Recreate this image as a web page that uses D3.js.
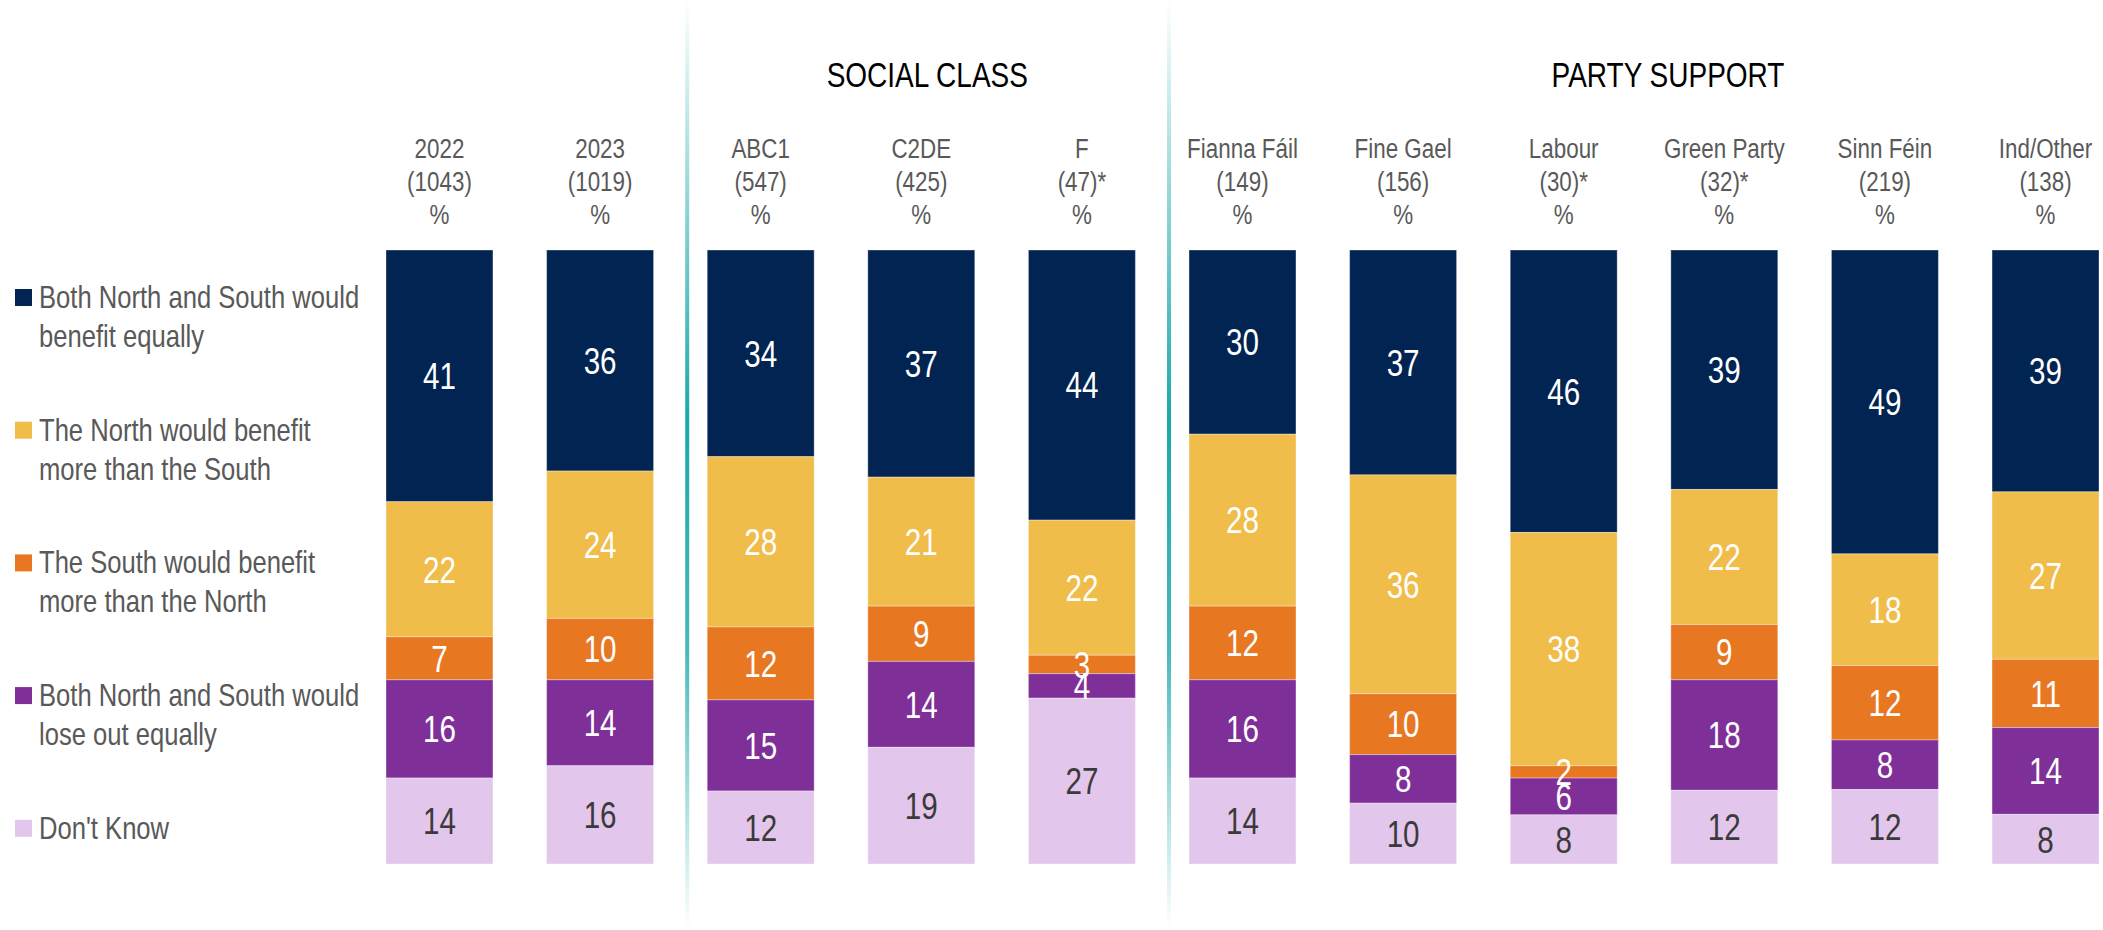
<!DOCTYPE html>
<html>
<head>
<meta charset="utf-8">
<script src="https://cdn.jsdelivr.net/npm/d3@7"></script>
<style>
  body { margin: 0; background: #fff; }
  text { font-family: "Liberation Sans", Arial, sans-serif; }
</style>
</head>
<body>
<div id="chart"></div>
<script>
// chart size
var svgWidth = 2103;
var svgHeight = 930;

// columns and their base sizes
var columns = ["2022", "2023", "ABC1", "C2DE", "F", "Fianna Fáil", "Fine Gael", "Labour", "Green Party", "Sinn Féin", "Ind/Other"];
var bases = ["(1043)", "(1019)", "(547)", "(425)", "(47)*", "(149)", "(156)", "(30)*", "(32)*", "(219)", "(138)"];

// answer categories (stack order, top to bottom)
var answers = [
  "Both North and South would benefit equally",
  "The North would benefit more than the South",
  "The South would benefit more than the North",
  "Both North and South would lose out equally",
  "Don't Know"
];
var legendLines = [
  ["Both North and South would", "benefit equally"],
  ["The North would benefit", "more than the South"],
  ["The South would benefit", "more than the North"],
  ["Both North and South would", "lose out equally"],
  ["Don't Know"]
];
var colors = ["#022452", "#f0bd4a", "#e87722", "#7f3098", "#e3c6ec"];
var labelColors = ["#fff", "#fff", "#fff", "#fff", "#3a3a3a"];

// values per answer, one per column
var bothEqual = [41, 36, 34, 37, 44, 30, 37, 46, 39, 49, 39];
var northMore = [22, 24, 28, 21, 22, 28, 36, 38, 22, 18, 27];
var southMore = [7, 10, 12, 9, 3, 12, 10, 2, 9, 12, 11];
var bothLose = [16, 14, 15, 14, 4, 16, 8, 6, 18, 8, 14];
var dontKnow = [14, 16, 12, 19, 27, 14, 10, 8, 12, 12, 8];

// group headers
var groups = [
  { name: "SOCIAL CLASS", first: "ABC1", last: "F", shift: 6 },
  { name: "PARTY SUPPORT", first: "Fianna Fáil", last: "Ind/Other", shift: 24 }
];

var series = [bothEqual, northMore, southMore, bothLose, dontKnow];

// condensed look: squeeze text horizontally
var squeeze = 0.8;
function narrowText(parent, x, y) {
  return parent.append("text")
    .attr("transform", `translate(${x}, ${y}) scale(${squeeze}, 1)`);
}

// build rows: each column as percentage share of its own total
var rows = columns.map(function(c, i) {
  var vals = series.map(s => s[i]);
  var total = d3.sum(vals);
  var row = { col: c, base: bases[i], total: total };
  vals.forEach(function(v, k) { row["a" + k] = v; });
  return row;
});

var keys = answers.map((a, k) => "a" + k);

var svg = d3.select("#chart")
  .append("svg")
  .attr("width", svgWidth)
  .attr("height", svgHeight);

var defs = svg.append("defs");
var grad = defs.append("linearGradient")
  .attr("id", "sepGrad")
  .attr("x1", 0).attr("y1", 0).attr("x2", 0).attr("y2", 1);
grad.append("stop").attr("offset", "0%").attr("stop-color", "#1aa8a8").attr("stop-opacity", 0);
grad.append("stop").attr("offset", "45%").attr("stop-color", "#1aa8a8").attr("stop-opacity", 1);
grad.append("stop").attr("offset", "70%").attr("stop-color", "#1aa8a8").attr("stop-opacity", 0.8);
grad.append("stop").attr("offset", "100%").attr("stop-color", "#1aa8a8").attr("stop-opacity", 0);

// scales
var xScale = d3.scaleBand()
  .domain(columns)
  .range([386, 2099])
  .paddingInner(0.334)
  .paddingOuter(0);

var yScale = d3.scaleLinear()
  .domain([0, 100])
  .range([250, 864]);

// stack on normalised shares
var stack = d3.stack()
  .keys(keys)
  .value((d, key) => d[key] / d.total * 100);
var stacked = stack(rows);

// separators
["ABC1", "Fianna Fáil"].forEach(function(c) {
  svg.append("rect")
    .attr("x", xScale(c) - 22)
    .attr("y", 0)
    .attr("width", 4)
    .attr("height", svgHeight)
    .attr("fill", "url(#sepGrad)");
});

// group headers
groups.forEach(function(g) {
  var cx = (xScale(g.first) + xScale(g.last) + xScale.bandwidth()) / 2 + g.shift;
  narrowText(svg, cx, 87)
    .attr("text-anchor", "middle")
    .attr("font-size", "35px")
    .attr("fill", "#000")
    .text(g.name);
});

// column headers
var headGroup = svg.append("g");
rows.forEach(function(r) {
  var cx = xScale(r.col) + xScale.bandwidth() / 2;
  [r.col, r.base, "%"].forEach(function(line, j) {
    narrowText(headGroup, cx, 158 + j * 33)
      .attr("text-anchor", "middle")
      .attr("font-size", "28px")
      .attr("fill", "#595959")
      .text(line);
  });
});

// bars
var layers = svg.selectAll("g.layer")
  .data(stacked)
  .enter()
  .append("g")
  .attr("class", "layer")
  .attr("fill", (d, k) => colors[k]);

layers.selectAll("rect")
  .data(d => d)
  .enter()
  .append("rect")
  .attr("x", d => xScale(d.data.col))
  .attr("y", d => yScale(d[0]))
  .attr("width", xScale.bandwidth())
  .attr("height", d => yScale(d[1]) - yScale(d[0]))
  .attr("stroke", "#fff")
  .attr("stroke-opacity", 0.35)
  .attr("stroke-width", 1);

// value labels
stacked.forEach(function(layer, k) {
  var g = svg.append("g");
  layer.forEach(function(d) {
    narrowText(g, xScale(d.data.col) + xScale.bandwidth() / 2, (yScale(d[0]) + yScale(d[1])) / 2)
      .attr("dy", "0.36em")
      .attr("text-anchor", "middle")
      .attr("font-size", "37px")
      .attr("fill", labelColors[k])
      .text(d.data[layer.key]);
  });
});

// legend
var legend = svg.append("g");
legendLines.forEach(function(lines, k) {
  var base = 308 + k * 132.7;
  legend.append("rect")
    .attr("x", 15)
    .attr("y", base - 19)
    .attr("width", 17)
    .attr("height", 17)
    .attr("fill", colors[k]);
  lines.forEach(function(line, j) {
    narrowText(legend, 39, base + j * 39)
      .attr("font-size", "32px")
      .attr("fill", "#595959")
      .text(line);
  });
});
</script>
</body>
</html>
